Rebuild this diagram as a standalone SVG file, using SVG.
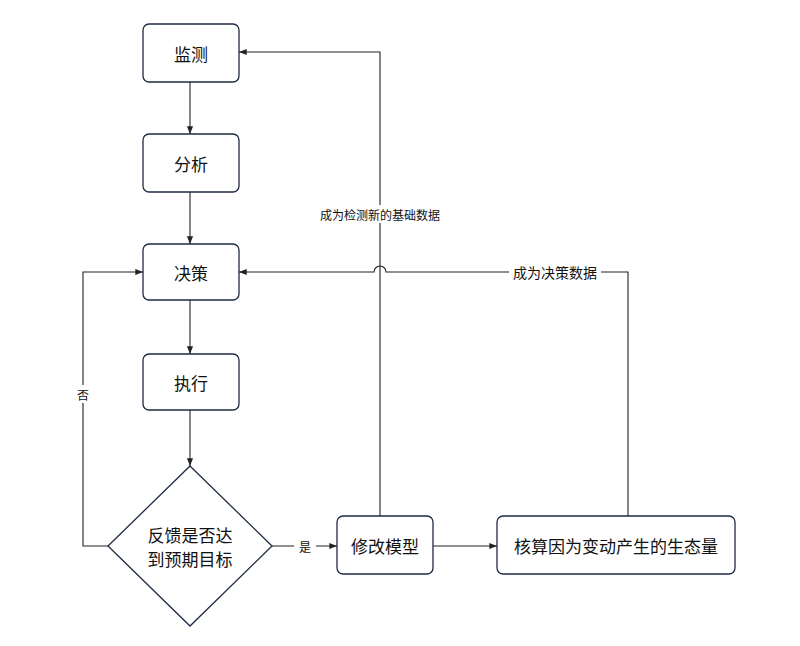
<svg xmlns="http://www.w3.org/2000/svg" width="800" height="646" viewBox="0 0 800 646">
<style>
.n{fill:#fff;stroke:#1f2a44;stroke-width:1.3}
.t{font-family:"Noto Sans CJK SC",sans-serif;font-size:17px;fill:#111;text-anchor:middle;dominant-baseline:central}
.l{font-family:"Noto Sans CJK SC",sans-serif;font-size:12px;fill:#111;text-anchor:middle;dominant-baseline:central}
.c{fill:none;stroke:#222;stroke-width:1.1;marker-end:url(#a)}
</style>
<defs><marker id="a" viewBox="0 0 10 10" refX="10" refY="5" markerWidth="7" markerHeight="7" orient="auto"><path d="M0,1 L10,5 L0,9 Z" fill="#222"/></marker></defs>
<rect width="800" height="646" fill="#fff"/>
<g id="connectors">
<path class="c" d="M190,82 V134"/>
<path class="c" d="M190,192 V244"/>
<path class="c" d="M190,300 V354"/>
<path class="c" d="M190,410 V466"/>
<path class="c" d="M108,546 H83 V272 H143"/>
<path class="c" d="M272,546 H337"/>
<path class="c" d="M433,546 H497"/>
<path class="c" d="M380,516 V52 H239"/>
<path class="c" d="M628,516 V272 H386 A6,6 0 0 0 374,272 H239"/>
<rect x="62" y="385" width="42" height="18" fill="#fff"/>
<text class="l" x="83" y="394">否</text>
<rect x="294" y="537" width="22" height="18" fill="#fff"/>
<text class="l" x="305" y="546">是</text>
<rect x="316" y="205" width="128" height="18" fill="#fff"/>
<text class="l" x="380" y="214">成为检测新的基础数据</text>
<rect x="509" y="263" width="92" height="18" fill="#fff"/>
<text class="l" x="555" y="272" style="font-size:14px">成为决策数据</text>
</g>
<g id="n1"><rect class="n" x="143" y="24" width="96" height="58" rx="6"/><text class="t" x="191" y="53">监测</text></g>
<g id="n2"><rect class="n" x="143" y="134" width="96" height="58" rx="6"/><text class="t" x="191" y="163">分析</text></g>
<g id="n3"><rect class="n" x="143" y="244" width="96" height="56" rx="6"/><text class="t" x="191" y="272">决策</text></g>
<g id="n4"><rect class="n" x="143" y="354" width="96" height="56" rx="6"/><text class="t" x="191" y="382">执行</text></g>
<g id="n5"><path class="n" d="M190,466 L272,546 L190,626 L108,546 Z"/><text class="t" x="190" y="534">反馈是否达</text><text class="t" x="190" y="558">到预期目标</text></g>
<g id="n6"><rect class="n" x="337" y="516" width="96" height="58" rx="6"/><text class="t" x="385" y="545">修改模型</text></g>
<g id="n7"><rect class="n" x="497" y="516" width="238" height="58" rx="6"/><text class="t" x="616" y="545">核算因为变动产生的生态量</text></g>
</svg>
